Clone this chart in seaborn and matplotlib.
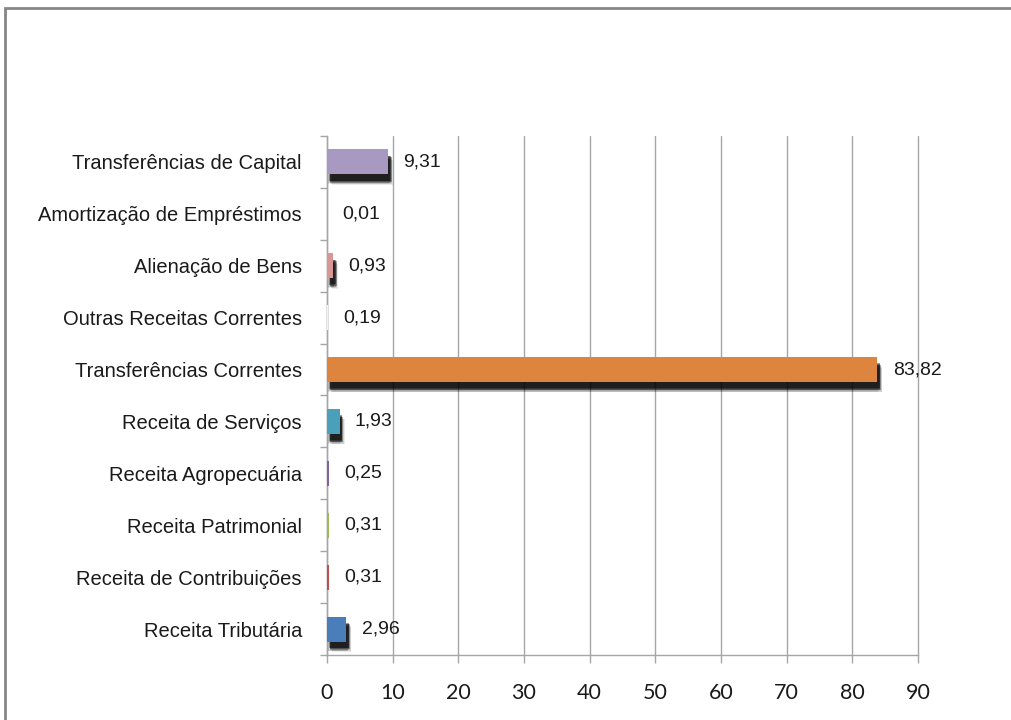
import matplotlib
matplotlib.use("Agg")
import matplotlib.pyplot as plt
import matplotlib.patheffects as pe
from matplotlib.patches import Rectangle
import seaborn as sns
import pandas as pd
import numpy as np

categories = [
    "Transferências de Capital",
    "Amortização de Empréstimos",
    "Alienação de Bens",
    "Outras Receitas Correntes",
    "Transferências Correntes",
    "Receita de Serviços",
    "Receita Agropecuária",
    "Receita Patrimonial",
    "Receita de Contribuições",
    "Receita Tributária",
]
values = [9.31, 0.01, 0.93, 0.19, 83.82, 1.93, 0.25, 0.31, 0.31, 2.96]
value_labels = ["9,31", "0,01", "0,93", "0,19", "83,82", "1,93", "0,25", "0,31", "0,31", "2,96"]
colors = ["#a899c2", "#f4f4f4", "#d99694", "#f4f4f4", "#dd843f",
          "#4aa0b8", "#8064a2", "#9bbb59", "#c0504d", "#4a7ebb"]
xticks = [0, 10, 20, 30, 40, 50, 60, 70, 80, 90]

df = pd.DataFrame({"cat": categories, "val": values})

sns.set_theme(style="white")
plt.rcParams["font.family"] = ["Liberation Sans", "DejaVu Sans"]

fig = plt.figure(figsize=(10.11, 7.2), dpi=100)
ax = fig.add_axes([327 / 1011, 1 - 655 / 720, (918 - 327) / 1011, (655 - 136) / 720])

sns.barplot(data=df, y="cat", x="val", hue="cat", palette=colors, order=categories,
            hue_order=categories, legend=False, width=0.48, orient="h", ax=ax,
            linewidth=0, saturation=1)

# soft, blurred black shadow under bars
shadow = []
for dx, dy, a in [(3.5, -7.5, 0.08), (0.5, -7.0, 0.08), (3.0, -7.0, 0.12), (1.0, -6.5, 0.12),
                  (2.0, -6.0, 0.25), (2.5, -5.5, 0.35), (1.5, -5.0, 0.35), (2.0, -4.5, 0.4)]:
    shadow.append(pe.SimplePatchShadow(offset=(dx, dy), shadow_rgbFace="black", alpha=a))
shadow.append(pe.Normal())
for p, v in zip(ax.patches, values):
    if v >= 0.5:
        p.set_path_effects(shadow)
    p.set_zorder(3)

for i, (v, lab) in enumerate(zip(values, value_labels)):
    ax.annotate(lab, xy=(v, i), xytext=(11, 0), textcoords="offset points",
                ha="left", va="center", fontsize=14, color="#1a1a1a", zorder=5)

ax.set_xlim(0, 90)
ax.set_ylim(len(categories) - 0.5, -0.5)
ax.set_xticks(xticks)
ax.set_xticklabels([str(t) for t in xticks], fontsize=15.5, color="#1a1a1a", family=["Lato", "DejaVu Sans"])
ax.set_xlabel("")
ax.set_ylabel("")
ax.grid(axis="x", color="#a6a6a6", linewidth=1.0, zorder=0)
for gl in ax.get_xgridlines():
    gl.set_clip_on(False)
ax.set_axisbelow(True)
for s in ["top", "right"]:
    ax.spines[s].set_visible(False)
for s in ["left", "bottom"]:
    ax.spines[s].set_color("#a6a6a6")
    ax.spines[s].set_linewidth(1.0)

ax.tick_params(axis="x", length=6, width=1, color="#a6a6a6", pad=14, bottom=True)
ax.tick_params(axis="y", which="major", length=0, pad=18, labelsize=14.5, labelcolor="#1a1a1a")
ax.set_yticks(np.arange(-0.5, len(categories), 1.0), minor=True)
ax.tick_params(axis="y", which="minor", length=5, width=1, color="#a6a6a6", left=True)

# outer chart border
fig.patches.append(Rectangle((5 / 1011, -0.05), 1.1, 1 - 8 / 720 + 0.05, transform=fig.transFigure,
                             fill=False, edgecolor="#868686", linewidth=2, zorder=10))

fig.savefig("out.png", dpi=100)
